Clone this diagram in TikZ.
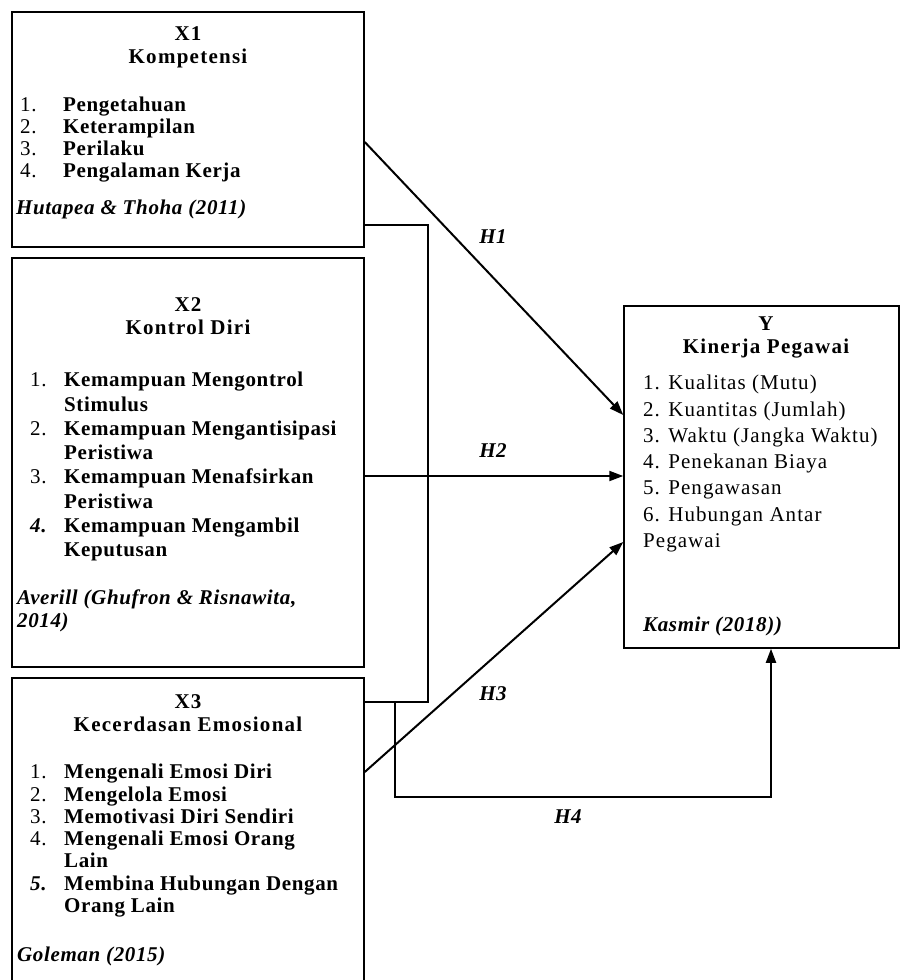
\documentclass[tikz,border=0pt]{standalone}
\usepackage{fontspec}
\setmainfont[LetterSpace=3]{Liberation Serif}
\usetikzlibrary{arrows.meta, calc}
\newcommand{\itemno}[2][34pt]{\makebox[#1][l]{\normalfont #2}}

\begin{document}
\begin{tikzpicture}[
        x=1pt, y=-1pt,
        font=\fontsize{21}{24}\selectfont,
        var/.style={draw, line width=1.5pt, inner sep=0pt, minimum width=352pt},
        head/.style={font=\bfseries\addfontfeature{LetterSpace=6}\fontsize{21}{23}\selectfont, align=center, inner sep=0pt, anchor=north},
        list/.style={font=\bfseries\fontsize{21}{#1}\selectfont, align=left, inner sep=0pt, anchor=north west},
        src/.style={font=\bfseries\itshape\fontsize{21}{23}\selectfont, align=left, inner sep=0pt, anchor=north west},
        rel/.style={-{Triangle[length=14pt,width=10pt]}, line width=2pt},
        bracket/.style={line width=1.5pt},
        hyp/.style={font=\bfseries\itshape\fontsize{21}{24}\selectfont, inner sep=0pt}
      ]
        \useasboundingbox (0,0) rectangle (901,980);
        \clip (0,0) rectangle (901,980);
        % variabel
        \node[var, minimum height=235pt] (x1) at (188,129.5) {};
        \node[var, minimum height=409pt] (x2) at (188,462.5) {};
        \node[var, minimum height=312pt] (x3) at (188,834) {};
        \node[var, minimum width=275pt, minimum height=342pt] (y) at (761.5,477) {};
        % isi X1
        \node[head] (x1head) at (188,26) {X1\\Kompetensi};
        \node[list=22pt] (x1list) at (20,97) {\itemno[43pt]{1.}Pengetahuan\\\itemno[43pt]{2.}Keterampilan\\\itemno[43pt]{3.}Perilaku\\\itemno[43pt]{4.}Pengalaman Kerja};
        \node[src] (x1src) at (16,200) {Hutapea \& Thoha (2011)};
        % isi X2
        \node[head] (x2head) at (188,297) {X2\\Kontrol Diri};
        \node[list=24.3pt] (x2list) at (30,372) {\itemno{1.}Kemampuan Mengontrol\\\hspace*{34pt}Stimulus\\\itemno{2.}Kemampuan Mengantisipasi\\\hspace*{34pt}Peristiwa\\\itemno{3.}Kemampuan Menafsirkan\\\hspace*{34pt}Peristiwa\\\itemno{\bfseries\itshape 4.}Kemampuan Mengambil\\\hspace*{34pt}Keputusan};
        \node[src] (x2src) at (17,590) {Averill (Ghufron \& Risnawita,\\2014)};
        % isi X3
        \node[head] (x3head) at (188,694) {X3\\Kecerdasan Emosional};
        \node[list=22.3pt] (x3list) at (30,764) {\itemno{1.}Mengenali Emosi Diri\\\itemno{2.}Mengelola Emosi\\\itemno{3.}Memotivasi Diri Sendiri\\\itemno{4.}Mengenali Emosi Orang\\\hspace*{34pt}Lain\\\itemno{\bfseries\itshape 5.}Membina Hubungan Dengan\\\hspace*{34pt}Orang Lain};
        \node[src] (x3src) at (17,947) {Goleman (2015)};
        % isi Y
        \node[head] (yhead) at (766,317) {Y\\Kinerja Pegawai};
        \node[list=26.3pt, font=\mdseries\addfontfeature{LetterSpace=5}\fontsize{21}{26.3}\selectfont] (ylist) at (643,375) {1. Kualitas (Mutu)\\2. Kuantitas (Jumlah)\\3. Waktu (Jangka Waktu)\\4. Penekanan Biaya\\5. Pengawasan\\6. Hubungan Antar\\Pegawai};
        \node[src] (ysrc) at (643,617) {Kasmir (2018))};
        % hubungan
        \coordinate (jt) at (428,225);
        \coordinate (jb) at (428,702);
        \coordinate (h4s) at (395,702);
        \coordinate (h4c) at (771,797);
        \draw[bracket] (x1.east |- jt) -- (jt) -- (jb) -- (x3.east |- jb);
        \draw[rel] (x1.east |- 0,142) -- (y.west |- 0,415);
        \draw[rel] (x2.east |- 0,476) -- (y.west |- 0,476);
        \draw[rel] (x3.east |- 0,772) -- (y.west |- 0,542);
        \draw[rel] (h4s) |- (h4c) -- (h4c |- y.south);
        \node[hyp] (h1) at (493,237) {H1};
        \node[hyp] (h2) at (493,451) {H2};
        \node[hyp] (h3) at (493,694) {H3};
        \node[hyp] (h4) at (568,817) {H4};
      \end{tikzpicture}
\end{document}
